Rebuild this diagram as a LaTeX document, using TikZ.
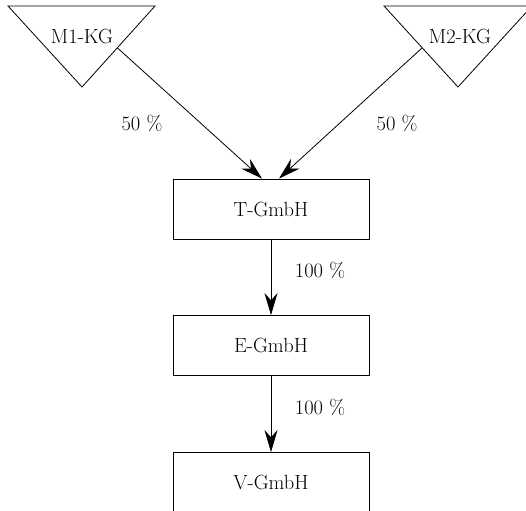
\documentclass[tikz,border=0pt]{standalone}
\usetikzlibrary{arrows.meta}
\begin{document}
\begin{tikzpicture}[x=1pt,y=-1pt,
  every node/.style={font=\fontsize{20.5}{24}\selectfont, inner sep=0pt},
  box/.style={draw, line width=0.8pt, minimum width=196pt, minimum height=60pt},
  arr/.style={line width=0.8pt, -{Stealth[length=22pt,width=13pt]}},
  tri/.style={draw, line width=0.8pt}]
\clip (0,0) rectangle (526,510);
% triangles
\draw[tri] (8,6) -- (155,6) -- (82,87) -- cycle;
\draw[tri] (384,6) -- (532,6) -- (458,87) -- cycle;
\node (m1) at (82,37) {M1-KG};
\node (m2) at (460,37) {M2-KG};
\coordinate (m1out) at (117.5,48);
\coordinate (m2out) at (422,48);
% boxes
\node[box] (t) at (271,209) {T-GmbH};
\node[box] (e) at (271,345.5) {E-GmbH};
\node[box] (v) at (271,482.5) {V-GmbH};
% arrows
\draw[arr] (m1out) -- ([xshift=-9pt]t.north);
\draw[arr] (m2out) -- ([xshift=8pt]t.north);
\draw[arr] (t.south) -- (e.north);
\draw[arr] (e.south) -- (v.north);
% labels
\node (l1) at (142,123) {50 \%};
\node (l2) at (397,123) {50 \%};
\node (l3) at (320,270) {100 \%};
\node (l4) at (320,407) {100 \%};
\end{tikzpicture}
\end{document}
